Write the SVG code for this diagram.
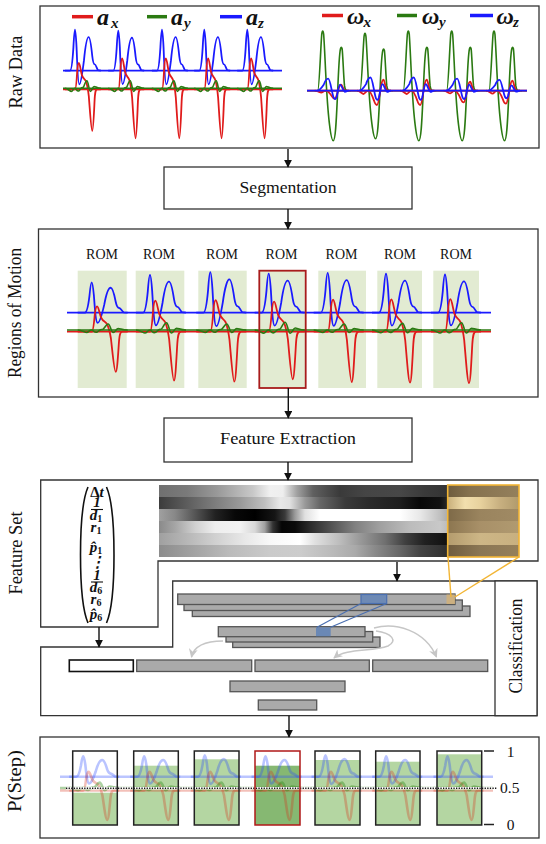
<svg xmlns="http://www.w3.org/2000/svg" xmlns:xlink="http://www.w3.org/1999/xlink" width="546" height="844" viewBox="0 0 546 844">
<style>
.box{fill:#fff;stroke:#333;stroke-width:1.3}
.t{font-family:"Liberation Serif","DejaVu Serif",serif;fill:#111}
.side{font-size:18px}
.leg{font-family:"Liberation Serif","DejaVu Serif",serif;font-weight:bold;font-style:italic;font-size:24px;fill:#111}
.sub{font-size:15px}
.sb{stroke:#1a1aff;stroke-width:1.8;fill:none}
.sr{stroke:#e01b1b;stroke-width:1.8;fill:none}
.sg{stroke:#2b7a12;stroke-width:1.6;fill:none}
.pb{stroke:#2a4aff;stroke-width:2.6;fill:none;opacity:.32}
.pr{stroke:#d83018;stroke-width:2.6;fill:none;opacity:.3}
.pg{stroke:#2b8a12;stroke-width:2.6;fill:none;opacity:.38}
.rom{fill:#e2ebd2}
.bar{fill:#aaaaaa;stroke:#555;stroke-width:1.3}
.vec{font-family:"Liberation Serif","DejaVu Serif",serif;font-size:15px;font-weight:bold;fill:#111;font-style:italic}
.arr{stroke:#111;stroke-width:1.4;fill:none;marker-end:url(#ah)}
.garr{stroke:#c6c6c6;stroke-width:1.5;fill:none;marker-end:url(#gh)}
</style>
<defs>
<marker id="ah" viewBox="0 0 10 10" refX="9" refY="5" markerWidth="8" markerHeight="8" markerUnits="userSpaceOnUse" orient="auto"><path d="M0,0 L10,5 L0,10 z" fill="#111"/></marker>
<marker id="gh" viewBox="0 0 10 10" refX="9" refY="5" markerWidth="9" markerHeight="9" markerUnits="userSpaceOnUse" orient="auto"><path d="M0,0 L10,5 L0,10 L3,5 z" fill="#c6c6c6"/></marker>
<path id="bc" fill="none" vector-effect="non-scaling-stroke" d="M0,0 L7,0 C9,0 10.5,-8 11.8,-22 C12.6,-33 13.2,-39 14,-39 C14.8,-39 15.4,-33 16.2,-22 C17,-8 18,13 20,13 C22,13 24,4 26.5,-10 C28.5,-24 31,-32 33,-32 C35,-32 36.5,-24 38,-14 C39,-8 40,-6 41.5,-6 C43,-6 44.5,-1.5 46,-0.5 L50,0"/>
<path id="rc" fill="none" vector-effect="non-scaling-stroke" d="M0,0 L14,0 C15.2,0 16.2,-9 17,-20 C17.8,-29 18.4,-31 19.4,-31 C20.8,-31 21.8,-22 23.5,-17 C25.5,-12 27.5,-13 29.5,-9 C31,-5 32,-1 33.2,8 C34.8,25 36.5,49 38,49 C39.4,49 40.3,29 41.3,12 C42,2 42.8,0 45,0 L50,0"/>
<path id="gc" fill="none" vector-effect="non-scaling-stroke" d="M0,0 C4,0 7,2.5 9,2.5 C11,2.5 12,-0.5 14,0 C16,0.5 17,3 19.5,2 C21.5,1 22.5,-1 24.5,-0.5 C26.5,0 28,-6 30.5,-6 C32.5,-6 33.5,2.5 35.5,2.5 C37.5,2.5 38.5,-1.5 40.5,-1.5 C42.5,-1.5 45,0 50,0"/>
<path id="ggc" fill="none" vector-effect="non-scaling-stroke" d="M-8,0 L-5,0 C-3.5,0 -2.2,-40 -1,-56 C-0.5,-61 0.5,-61 1,-56 C2,-42 2.8,-18 4,0 C5.5,25 8,50 10.5,50 C13,50 13.8,25 15,0 C15.8,-20 16.8,-38 17.8,-42 C18.3,-44 18.9,-44 19.4,-42 C20.2,-36 20.8,-15 21.8,-5 C22.5,0 23.5,0 25,0 L28,0"/>
<path id="bgc" fill="none" vector-effect="non-scaling-stroke" d="M-6,0 C-3,0 -1,-3 1,-6 C2.5,-10 4,-12 5.5,-12 C7.5,-12 9,2 11,7 C12,9 13,9 14,6 C15,2 16,-6 17.5,-6 C19,-6 20,0 22,1 C23,1.5 24,0 26,0"/>
<path id="rgc" fill="none" vector-effect="non-scaling-stroke" d="M-8,0 C-5,0 -3,3 -1.5,3 C0,3 1,0 3,0 C5,0 7,4 9,9 C10,12 11,13 12,13 C13.5,13 14.5,4 16,-4 C17,-9 17.8,-10 18.5,-10 C19.5,-10 20.5,-2 22,0 L26,0"/>
<linearGradient id="h1" gradientUnits="userSpaceOnUse" x1="159" y1="0" x2="448" y2="0">
<stop offset="0" stop-color="#707070"/><stop offset=".097" stop-color="#7a7a7a"/><stop offset=".201" stop-color="#999"/><stop offset=".325" stop-color="#c8c8c8"/><stop offset=".384" stop-color="#f0f0f0"/><stop offset=".429" stop-color="#eee"/><stop offset=".478" stop-color="#a0a0a0"/><stop offset=".533" stop-color="#606060"/><stop offset=".626" stop-color="#3a3a3a"/><stop offset=".713" stop-color="#454545"/><stop offset=".834" stop-color="#474747"/><stop offset=".92" stop-color="#3a3a3a"/><stop offset="1" stop-color="#333"/>
</linearGradient>
<linearGradient id="h2" gradientUnits="userSpaceOnUse" x1="159" y1="0" x2="448" y2="0">
<stop offset="0" stop-color="#3c3c3c"/><stop offset=".073" stop-color="#555"/><stop offset=".176" stop-color="#777"/><stop offset=".28" stop-color="#999"/><stop offset=".366" stop-color="#c0c0c0"/><stop offset=".419" stop-color="#e8e8e8"/><stop offset=".453" stop-color="#e0e0e0"/><stop offset=".505" stop-color="#999"/><stop offset=".557" stop-color="#666"/><stop offset=".644" stop-color="#3a3a3a"/><stop offset=".73" stop-color="#2a2a2a"/><stop offset=".834" stop-color="#1e1e1e"/><stop offset=".903" stop-color="#080808"/><stop offset=".972" stop-color="#111"/><stop offset="1" stop-color="#2a2a2a"/>
</linearGradient>
<linearGradient id="h3" gradientUnits="userSpaceOnUse" x1="159" y1="0" x2="448" y2="0">
<stop offset="0" stop-color="#a0a0a0"/><stop offset=".055" stop-color="#888"/><stop offset=".125" stop-color="#555"/><stop offset=".194" stop-color="#222"/><stop offset=".263" stop-color="#080808"/><stop offset=".332" stop-color="#000"/><stop offset=".401" stop-color="#151515"/><stop offset=".436" stop-color="#3a3a3a"/><stop offset=".47" stop-color="#999"/><stop offset=".505" stop-color="#e0e0e0"/><stop offset=".557" stop-color="#fff"/><stop offset=".834" stop-color="#fff"/><stop offset=".903" stop-color="#e8e8e8"/><stop offset=".972" stop-color="#c0c0c0"/><stop offset="1" stop-color="#aaa"/>
</linearGradient>
<linearGradient id="h4" gradientUnits="userSpaceOnUse" x1="159" y1="0" x2="448" y2="0">
<stop offset="0" stop-color="#8a8a8a"/><stop offset=".055" stop-color="#a5a5a5"/><stop offset=".125" stop-color="#d0d0d0"/><stop offset=".194" stop-color="#eee"/><stop offset=".28" stop-color="#f2f2f2"/><stop offset=".332" stop-color="#d8d8d8"/><stop offset=".366" stop-color="#a0a0a0"/><stop offset=".394" stop-color="#333"/><stop offset=".425" stop-color="#050505"/><stop offset=".471" stop-color="#0a0a0a"/><stop offset=".522" stop-color="#2a2a2a"/><stop offset=".592" stop-color="#505050"/><stop offset=".678" stop-color="#808080"/><stop offset=".765" stop-color="#a0a0a0"/><stop offset=".869" stop-color="#bcbcbc"/><stop offset=".972" stop-color="#c8c8c8"/><stop offset="1" stop-color="#bbb"/>
</linearGradient>
<linearGradient id="h5" gradientUnits="userSpaceOnUse" x1="159" y1="0" x2="448" y2="0">
<stop offset="0" stop-color="#a0a0a0"/><stop offset=".09" stop-color="#b5b5b5"/><stop offset=".194" stop-color="#d0d0d0"/><stop offset=".298" stop-color="#e8e8e8"/><stop offset=".384" stop-color="#f8f8f8"/><stop offset=".488" stop-color="#fff"/><stop offset=".54" stop-color="#e0e0e0"/><stop offset=".626" stop-color="#bcbcbc"/><stop offset=".696" stop-color="#999"/><stop offset=".782" stop-color="#707070"/><stop offset=".851" stop-color="#404040"/><stop offset=".92" stop-color="#202020"/><stop offset="1" stop-color="#111"/>
</linearGradient>
<linearGradient id="h6" gradientUnits="userSpaceOnUse" x1="159" y1="0" x2="448" y2="0">
<stop offset="0" stop-color="#8c8c8c"/><stop offset=".107" stop-color="#a0a0a0"/><stop offset=".246" stop-color="#bbb"/><stop offset=".384" stop-color="#cacaca"/><stop offset=".488" stop-color="#ccc"/><stop offset=".592" stop-color="#bbb"/><stop offset=".678" stop-color="#aaa"/><stop offset=".747" stop-color="#8a8a8a"/><stop offset=".834" stop-color="#666"/><stop offset=".903" stop-color="#444"/><stop offset="1" stop-color="#2e2e2e"/>
</linearGradient>
<linearGradient id="y1" gradientUnits="userSpaceOnUse" x1="448" y1="0" x2="519" y2="0"><stop offset="0" stop-color="#6e5c3e"/><stop offset=".3" stop-color="#85714e"/><stop offset="1" stop-color="#94805c"/></linearGradient>
<linearGradient id="y2" gradientUnits="userSpaceOnUse" x1="448" y1="0" x2="519" y2="0"><stop offset="0" stop-color="#c9b07c"/><stop offset=".24" stop-color="#f2dfae"/><stop offset=".45" stop-color="#e8d29e"/><stop offset=".73" stop-color="#c8b080"/><stop offset="1" stop-color="#b09a6c"/></linearGradient>
<linearGradient id="y3" gradientUnits="userSpaceOnUse" x1="448" y1="0" x2="519" y2="0"><stop offset="0" stop-color="#7e6a48"/><stop offset=".45" stop-color="#9a845e"/><stop offset="1" stop-color="#a08a64"/></linearGradient>
<linearGradient id="y4" gradientUnits="userSpaceOnUse" x1="448" y1="0" x2="519" y2="0"><stop offset="0" stop-color="#8c7650"/><stop offset=".45" stop-color="#a89068"/><stop offset="1" stop-color="#b09a70"/></linearGradient>
<linearGradient id="y5" gradientUnits="userSpaceOnUse" x1="448" y1="0" x2="519" y2="0"><stop offset="0" stop-color="#b49c6e"/><stop offset=".45" stop-color="#cdb686"/><stop offset="1" stop-color="#c8b080"/></linearGradient>
<linearGradient id="y6" gradientUnits="userSpaceOnUse" x1="448" y1="0" x2="519" y2="0"><stop offset="0" stop-color="#705c3e"/><stop offset=".45" stop-color="#8a7654"/><stop offset="1" stop-color="#957f5a"/></linearGradient>
</defs>

<rect width="546" height="844" fill="#fff"/>

<g id="raw-data">
<rect class="box" x="40" y="6" width="499" height="142"/>
<text class="t side" transform="translate(21.5,72) rotate(-90)" text-anchor="middle" textLength="73" lengthAdjust="spacingAndGlyphs">Raw Data</text>
<g id="raw-legend">
<line x1="72" y1="16.7" x2="93" y2="16.7" stroke="#e01b1b" stroke-width="3.5"/>
<text class="leg" x="97" y="25">a</text><text class="leg sub" x="111" y="27.5">x</text>
<line x1="147" y1="16.7" x2="167" y2="16.7" stroke="#2b7a12" stroke-width="3.5"/>
<text class="leg" x="171" y="25">a</text><text class="leg sub" x="184" y="27.5">y</text>
<line x1="220" y1="16.7" x2="242" y2="16.7" stroke="#1a1aff" stroke-width="3.5"/>
<text class="leg" x="246" y="25">a</text><text class="leg sub" x="258" y="27.5">z</text>
<line x1="322" y1="15.5" x2="343" y2="15.5" stroke="#e01b1b" stroke-width="3.5"/>
<text class="leg" x="347" y="24">ω</text><text class="leg sub" x="363.5" y="27">x</text>
<line x1="397" y1="15.5" x2="417" y2="15.5" stroke="#2b7a12" stroke-width="3.5"/>
<text class="leg" x="422" y="24">ω</text><text class="leg sub" x="439" y="27">y</text>
<line x1="470" y1="15.5" x2="493" y2="15.5" stroke="#1a1aff" stroke-width="3.5"/>
<text class="leg" x="496.5" y="24">ω</text><text class="leg sub" x="513" y="27">z</text>
</g>
<g id="raw-acc">
<line class="sb" x1="63" y1="70.7" x2="282" y2="70.7"/>
<use href="#bc" class="sb" transform="translate(64.9,70.7) scale(0.72,1.05)"/>
<use href="#bc" class="sb" transform="translate(108.2,70.7) scale(0.72,1.03)"/>
<use href="#bc" class="sb" transform="translate(151.9,70.7) scale(0.72,1.05)"/>
<use href="#bc" class="sb" transform="translate(194.2,70.7) scale(0.72,1.05)"/>
<use href="#bc" class="sb" transform="translate(237.2,70.7) scale(0.72,1.05)"/>
<line class="sr" x1="63" y1="89.3" x2="282" y2="89.3"/>
<use href="#rc" class="sr" transform="translate(64.9,89.3) scale(0.72,0.85)"/>
<use href="#rc" class="sr" transform="translate(108.2,89.3) scale(0.72,1.0)"/>
<use href="#rc" class="sr" transform="translate(151.9,89.3) scale(0.72,1.0)"/>
<use href="#rc" class="sr" transform="translate(194.2,89.3) scale(0.72,1.0)"/>
<use href="#rc" class="sr" transform="translate(237.2,89.3) scale(0.72,1.0)"/>
<line class="sg" x1="63" y1="88.3" x2="282" y2="88.3"/>
<use href="#gc" class="sg" transform="translate(64.9,88.3) scale(0.72,1.25)"/>
<use href="#gc" class="sg" transform="translate(108.2,88.3) scale(0.72,1.25)"/>
<use href="#gc" class="sg" transform="translate(151.9,88.3) scale(0.72,1.25)"/>
<use href="#gc" class="sg" transform="translate(194.2,88.3) scale(0.72,1.25)"/>
<use href="#gc" class="sg" transform="translate(237.2,88.3) scale(0.72,1.25)"/>
</g>
<g id="raw-gyro">
<line class="sg" x1="307" y1="90.7" x2="527" y2="90.7"/>
<use href="#ggc" class="sg" transform="translate(322.7,90.7)"/>
<use href="#ggc" class="sg" transform="translate(365,90.7) scale(1,0.96)"/>
<use href="#ggc" class="sg" transform="translate(408.3,90.7)"/>
<use href="#ggc" class="sg" transform="translate(451.7,90.7)"/>
<use href="#ggc" class="sg" transform="translate(494,90.7)"/>
<line class="sr" x1="307" y1="90.7" x2="527" y2="90.7"/>
<use href="#rgc" class="sr" transform="translate(322.7,90.7) scale(1,0.6)"/>
<use href="#rgc" class="sr" transform="translate(365,90.7) scale(1,1.1)"/>
<use href="#rgc" class="sr" transform="translate(408.3,90.7) scale(1,1.1)"/>
<use href="#rgc" class="sr" transform="translate(451.7,90.7) scale(1,0.9)"/>
<use href="#rgc" class="sr" transform="translate(494,90.7) scale(1,1.0)"/>
<line class="sb" x1="307" y1="90.7" x2="527" y2="90.7"/>
<use href="#bgc" class="sb" transform="translate(322.7,90.7)"/>
<use href="#bgc" class="sb" transform="translate(365,90.7) scale(1,1.1)"/>
<use href="#bgc" class="sb" transform="translate(408.3,90.7) scale(1,1.1)"/>
<use href="#bgc" class="sb" transform="translate(451.7,90.7)"/>
<use href="#bgc" class="sb" transform="translate(494,90.7) scale(1,0.9)"/>
</g>
</g>

<g id="segmentation">
<rect class="box" x="164" y="167" width="248" height="42"/>
<text class="t" x="288" y="192.5" font-size="17.5" text-anchor="middle" textLength="97" lengthAdjust="spacingAndGlyphs">Segmentation</text>
</g>

<g id="regions-of-motion">
<rect class="box" x="38.5" y="229" width="499.5" height="168"/>
<text class="t side" transform="translate(21,313) rotate(-90)" text-anchor="middle" textLength="130" lengthAdjust="spacingAndGlyphs">Regions of Motion</text>
<rect class="rom" x="77.7" y="270.7" width="49" height="117.3"/>
<rect class="rom" x="135.7" y="270.7" width="48.6" height="117.3"/>
<rect class="rom" x="198.3" y="270.7" width="48.4" height="117.3"/>
<rect class="rom" x="259.3" y="270.7" width="46.4" height="117.3"/>
<rect class="rom" x="318.3" y="270.7" width="47.7" height="117.3"/>
<rect class="rom" x="377.3" y="270.7" width="44.7" height="117.3"/>
<rect class="rom" x="433.3" y="270.7" width="45.7" height="117.3"/>
<g class="t" font-size="14" text-anchor="middle">
<text x="102" y="259">ROM</text><text x="159" y="259">ROM</text><text x="222" y="259">ROM</text><text x="281.5" y="259">ROM</text><text x="341.5" y="259">ROM</text><text x="400" y="259">ROM</text><text x="456" y="259">ROM</text>
</g>
<line class="sb" x1="67" y1="312.7" x2="491" y2="312.7"/>
<use href="#bc" class="sb" transform="translate(77.7,312.7) scale(1,0.78)"/>
<use href="#bc" class="sb" transform="translate(136,312.7) scale(1,0.97)"/>
<use href="#bc" class="sb" transform="translate(196.3,312.7) scale(1,1.04)"/>
<use href="#bc" class="sb" transform="translate(254.7,312.7) scale(1,1.0)"/>
<use href="#bc" class="sb" transform="translate(313.7,312.7) scale(1,1.02)"/>
<use href="#bc" class="sb" transform="translate(372,312.7) scale(1,1.0)"/>
<use href="#bc" class="sb" transform="translate(431,312.7) scale(1,0.98)"/>
<line class="sr" x1="67" y1="331.7" x2="491" y2="331.7"/>
<use href="#rc" class="sr" transform="translate(77.7,331.7) scale(1,0.82)"/>
<use href="#rc" class="sr" transform="translate(136,331.7) scale(1,1.0)"/>
<use href="#rc" class="sr" transform="translate(196.3,331.7) scale(1,1.02)"/>
<use href="#rc" class="sr" transform="translate(254.7,331.7) scale(1,0.97)"/>
<use href="#rc" class="sr" transform="translate(313.7,331.7) scale(1,1.03)"/>
<use href="#rc" class="sr" transform="translate(372,331.7) scale(1,1.04)"/>
<use href="#rc" class="sr" transform="translate(431,331.7) scale(1,1.05)"/>
<line class="sg" x1="67" y1="330" x2="491" y2="330"/>
<use href="#gc" class="sg" transform="translate(77.7,330)"/>
<use href="#gc" class="sg" transform="translate(136,330) scale(1,1.2)"/>
<use href="#gc" class="sg" transform="translate(196.3,330)"/>
<use href="#gc" class="sg" transform="translate(254.7,330) scale(1,1.3)"/>
<use href="#gc" class="sg" transform="translate(313.7,330)"/>
<use href="#gc" class="sg" transform="translate(372,330) scale(1,1.1)"/>
<use href="#gc" class="sg" transform="translate(431,330) scale(1,1.2)"/>
<rect x="259.3" y="270.7" width="46.4" height="117.3" fill="none" stroke="#a81c1c" stroke-width="1.8"/>
</g>

<g id="feature-extraction">
<rect class="box" x="164" y="418" width="248" height="44"/>
<text class="t" x="288" y="444" font-size="17.5" text-anchor="middle" textLength="136" lengthAdjust="spacingAndGlyphs">Feature Extraction</text>
</g>

<g id="feature-set">
<path class="box" d="M40.7,480 H538 V561 H158 V627 H40.7 Z"/>
<text class="t side" transform="translate(21.5,553) rotate(-90)" text-anchor="middle" textLength="83" lengthAdjust="spacingAndGlyphs">Feature Set</text>
<g id="feature-vector">
<path d="M88,487 C78,510 78,600 88,623" fill="none" stroke="#111" stroke-width="1.6"/>
<path d="M106.5,487 C116.5,510 116.5,600 106.5,623" fill="none" stroke="#111" stroke-width="1.6"/>
<text class="vec" x="97" y="497" text-anchor="middle"><tspan font-style="normal">Δ</tspan>t</text>
<text class="vec" x="97" y="507.3" font-size="10.5" font-style="normal" text-anchor="middle">1</text>
<line x1="91" y1="509.5" x2="103" y2="509.5" stroke="#111" stroke-width="1.1"/>
<text class="vec" x="96" y="520" text-anchor="middle">d<tspan font-size="10" font-style="normal" dy="2">1</tspan></text>
<text class="vec" x="96" y="532" text-anchor="middle">r<tspan font-size="10" font-style="normal" dy="2">1</tspan></text>
<text class="vec" x="96" y="551.5" text-anchor="middle">p̂<tspan font-size="10" font-style="normal" dy="2">1</tspan></text>
<text class="vec" x="97" y="567" font-weight="normal" font-style="normal" text-anchor="middle">⋮</text>
<text class="vec" x="97" y="580" font-size="10.5" font-style="normal" text-anchor="middle">1</text>
<line x1="91" y1="582" x2="103" y2="582" stroke="#111" stroke-width="1.1"/>
<text class="vec" x="96" y="592" text-anchor="middle">d<tspan font-size="10" font-style="normal" dy="2">6</tspan></text>
<text class="vec" x="96" y="603.5" text-anchor="middle">r<tspan font-size="10" font-style="normal" dy="2">6</tspan></text>
<text class="vec" x="96" y="619" text-anchor="middle">p̂<tspan font-size="10" font-style="normal" dy="2">6</tspan></text>
</g>
<g id="heatmap">
<rect x="159" y="485" width="289" height="12" fill="url(#h1)"/>
<rect x="159" y="497" width="289" height="12" fill="url(#h2)"/>
<rect x="159" y="509" width="289" height="12" fill="url(#h3)"/>
<rect x="159" y="521" width="289" height="12" fill="url(#h4)"/>
<rect x="159" y="533" width="289" height="12" fill="url(#h5)"/>
<rect x="159" y="545" width="289" height="12" fill="url(#h6)"/>
<rect x="448" y="485" width="71" height="12" fill="url(#y1)"/>
<rect x="448" y="497" width="71" height="12" fill="url(#y2)"/>
<rect x="448" y="509" width="71" height="12" fill="url(#y3)"/>
<rect x="448" y="521" width="71" height="12" fill="url(#y4)"/>
<rect x="448" y="533" width="71" height="12" fill="url(#y5)"/>
<rect x="448" y="545" width="71" height="12" fill="url(#y6)"/>
<rect x="447.7" y="485" width="71.3" height="72" fill="none" stroke="#f2b535" stroke-width="1.6"/>
</g>
</g>

<g id="classification">
<path class="box" d="M172.7,581 H537 V715.7 H40.7 V647 H172.7 Z"/>
<rect class="box" x="495" y="581" width="42" height="134.7"/>
<text class="t side" transform="translate(521.5,646) rotate(-90)" text-anchor="middle" textLength="95" lengthAdjust="spacingAndGlyphs">Classification</text>
<rect class="bar" x="192.3" y="606" width="277.7" height="10.5"/>
<rect class="bar" x="184" y="600" width="278.3" height="10.5"/>
<rect class="bar" x="177.7" y="594" width="277.3" height="10.5"/>
<rect x="446.5" y="594.5" width="8.5" height="9.5" fill="#d2b27a" opacity=".85"/>
<rect x="361" y="594.5" width="25.7" height="9" fill="#5a7fb8" fill-opacity=".75" stroke="#4a6fb0" stroke-width="1.2"/>
<rect class="bar" x="232.7" y="637" width="147.3" height="10.5"/>
<rect class="bar" x="226" y="631.5" width="146.7" height="10.5"/>
<rect class="bar" x="218.3" y="626.7" width="146.7" height="10"/>
<rect x="316" y="627.3" width="14.7" height="9" fill="#5a7fb8" fill-opacity=".8"/>
<line x1="361" y1="603.5" x2="317" y2="627.3" stroke="#4a6fb0" stroke-width="1.2"/>
<line x1="386.7" y1="603.5" x2="330.5" y2="627.3" stroke="#4a6fb0" stroke-width="1.2"/>
<line x1="448" y1="557" x2="451" y2="597" stroke="#f2b535" stroke-width="1.4"/>
<line x1="519" y1="557" x2="455" y2="597" stroke="#f2b535" stroke-width="1.4"/>
<rect x="69.3" y="660" width="64" height="11.5" fill="#fff" stroke="#111" stroke-width="1.6"/>
<rect class="bar" x="136.7" y="660" width="115" height="11.5"/>
<rect class="bar" x="255" y="660" width="114.3" height="11.5"/>
<rect class="bar" x="372.7" y="660" width="115" height="11.5"/>
<rect class="bar" x="230" y="681" width="115" height="10.7"/>
<rect class="bar" x="258.3" y="700" width="58.4" height="10"/>
<path class="garr" d="M223,641 C205,641 194,646 191.5,657"/>
<path class="garr" d="M376,631 C392,633 398,641 388,646 C372,652 346,648 334,658"/>
<path class="garr" d="M374,628 C395,622 425,630 436.5,657"/>
</g>

<g id="p-step">
<rect class="box" x="40" y="737" width="499" height="101"/>
<text class="t" transform="translate(20.5,781) rotate(-90)" font-size="19.5" text-anchor="middle" textLength="62" lengthAdjust="spacingAndGlyphs">P(Step)</text>
<rect x="72.7" y="751" width="44.6" height="74" fill="#fff"/>
<rect x="133.7" y="751" width="44.6" height="74" fill="#fff"/>
<rect x="194.3" y="751" width="44.7" height="74" fill="#fff"/>
<rect x="255" y="751" width="45" height="74" fill="#fff"/>
<rect x="315" y="751" width="45" height="74" fill="#fff"/>
<rect x="375.7" y="751" width="44.3" height="74" fill="#fff"/>
<rect x="437" y="751" width="44.7" height="74" fill="#fff"/>
<rect x="72.7" y="792.7" width="44.6" height="32.3" fill="#b4d6a2"/>
<rect x="133.7" y="765.7" width="44.6" height="59.3" fill="#b4d6a2"/>
<rect x="194.3" y="759.3" width="44.7" height="65.7" fill="#b4d6a2"/>
<rect x="255" y="765.7" width="45" height="59.3" fill="#86b872"/>
<rect x="315" y="760" width="45" height="65" fill="#b4d6a2"/>
<rect x="375.7" y="761.7" width="44.3" height="63.3" fill="#b4d6a2"/>
<rect x="437" y="754.3" width="44.7" height="70.7" fill="#b4d6a2"/>
<g id="p-signals">
<line class="pb" x1="60" y1="776.7" x2="493" y2="776.7"/>
<use href="#bc" class="pb" transform="translate(69.2,776.7) scale(1,0.52)"/>
<use href="#bc" class="pb" transform="translate(130.2,776.7) scale(1,0.52)"/>
<use href="#bc" class="pb" transform="translate(190.8,776.7) scale(1,0.55)"/>
<use href="#bc" class="pb" transform="translate(251.5,776.7) scale(1,0.52)"/>
<use href="#bc" class="pb" transform="translate(311.5,776.7) scale(1,0.55)"/>
<use href="#bc" class="pb" transform="translate(372.2,776.7) scale(1,0.52)"/>
<use href="#bc" class="pb" transform="translate(433.5,776.7) scale(1,0.52)"/>
<line class="pr" x1="60" y1="790.5" x2="493" y2="790.5"/>
<use href="#rc" class="pr" transform="translate(69.2,790.5) scale(1,0.6)"/>
<use href="#rc" class="pr" transform="translate(130.2,790.5) scale(1,0.6)"/>
<use href="#rc" class="pr" transform="translate(190.8,790.5) scale(1,0.6)"/>
<use href="#rc" class="pr" transform="translate(251.5,790.5) scale(1,0.6)"/>
<use href="#rc" class="pr" transform="translate(311.5,790.5) scale(1,0.6)"/>
<use href="#rc" class="pr" transform="translate(372.2,790.5) scale(1,0.6)"/>
<use href="#rc" class="pr" transform="translate(433.5,790.5) scale(1,0.6)"/>
<line class="pg" x1="60" y1="788" x2="493" y2="788"/>
<use href="#gc" class="pg" transform="translate(69.2,788) scale(1,0.9)"/>
<use href="#gc" class="pg" transform="translate(130.2,788) scale(1,0.9)"/>
<use href="#gc" class="pg" transform="translate(190.8,788) scale(1,0.9)"/>
<use href="#gc" class="pg" transform="translate(251.5,788) scale(1,0.9)"/>
<use href="#gc" class="pg" transform="translate(311.5,788) scale(1,0.9)"/>
<use href="#gc" class="pg" transform="translate(372.2,788) scale(1,0.9)"/>
<use href="#gc" class="pg" transform="translate(433.5,788) scale(1,0.9)"/>
</g>
<line x1="66" y1="788.3" x2="497" y2="788.3" stroke="#fff" stroke-width="2.6"/>
<line x1="66" y1="788.3" x2="497" y2="788.3" stroke="#111" stroke-width="1.6" stroke-dasharray="1.3 1.3"/>
<g fill="none" stroke="#222" stroke-width="1.5">
<rect x="72.7" y="751" width="44.6" height="74"/>
<rect x="133.7" y="751" width="44.6" height="74"/>
<rect x="194.3" y="751" width="44.7" height="74"/>
<rect x="315" y="751" width="45" height="74"/>
<rect x="375.7" y="751" width="44.3" height="74"/>
<rect x="437" y="751" width="44.7" height="74"/>
</g>
<rect x="255" y="751" width="45" height="74" fill="none" stroke="#b01818" stroke-width="1.5"/>
<line x1="484" y1="751" x2="494" y2="751" stroke="#222" stroke-width="1.5"/>
<line x1="484" y1="824.5" x2="494" y2="824.5" stroke="#222" stroke-width="1.5"/>
<g class="t" font-size="15.5">
<text x="510.5" y="756.5" text-anchor="middle">1</text>
<text x="500" y="793.3">0.5</text>
<text x="510.5" y="829.5" text-anchor="middle">0</text>
</g>
</g>

<g id="connectors">
<line class="arr" x1="288" y1="149" x2="288" y2="167"/>
<line class="arr" x1="288" y1="209" x2="288" y2="229"/>
<line class="arr" x1="288.3" y1="388" x2="288.3" y2="418"/>
<line class="arr" x1="288" y1="462" x2="288" y2="480"/>
<line class="arr" x1="397" y1="562" x2="397" y2="581"/>
<line class="arr" x1="99" y1="627" x2="99" y2="647"/>
<line class="arr" x1="289" y1="715.7" x2="289" y2="737"/>
</g>
</svg>
